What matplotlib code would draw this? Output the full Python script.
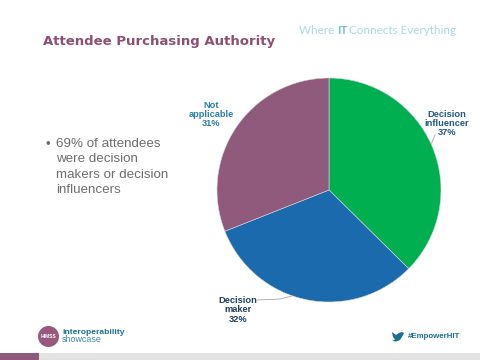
import matplotlib
matplotlib.use("Agg")
import matplotlib.pyplot as plt
from matplotlib.patches import Rectangle, Circle, Polygon

labels = ["Decision\ninfluencer\n37%", "Decision\nmaker\n32%", "Not\napplicable\n31%"]
values = [37.4, 31.6, 31.0]
colors = ["#00B050", "#1B6AAE", "#8F5A7C"]
label_colors = ["#1F5A8A", "#1F3F5F", "#2A80A8"]
bullet = "69% of attendees\nwere decision\nmakers or decision\ninfluencers"

plt.rcParams['font.family'] = ['Liberation Sans', 'DejaVu Sans']
fig = plt.figure(figsize=(4.8, 3.6), dpi=100)
bg = fig.add_axes([0, 0, 1, 1])
bg.set_xlim(0, 480)
bg.set_ylim(360, 0)
bg.axis("off")

bg.text(43, 41, "Attendee Purchasing Authority", fontsize=9.5, fontweight="bold",
        color="#8F4F73", va="center", ha="left", family="DejaVu Sans")
bg.text(299, 30, "Where ", fontsize=8.4, color="#A9D8E8", va="center", ha="left", family="Lato")
bg.text(337, 30, "IT", fontsize=8.4, color="#7FBFD6", va="center", ha="left", family="Lato", fontweight="bold")
bg.text(349, 30, "Connects Everything", fontsize=8.4, color="#A9D8E8", va="center", ha="left", family="Lato")

bg.text(46, 145, "•", fontsize=9.6, color="#6E6E6E", va="center", ha="left")
bg.text(56, 167, bullet, fontsize=9.6, color="#6E6E6E", va="center", ha="left", linespacing=1.37)

# footer
bg.add_patch(Rectangle((0, 353), 480, 7, color="#E3E3E3", lw=0))
bg.add_patch(Rectangle((0, 353), 39, 7, color="#8F5A7C", lw=0))
bg.add_patch(Circle((48.5, 336.5), 10.5, color="#97597C", lw=0))
bg.text(48.5, 337, "HIMSS", fontsize=3.6, color="white", ha="center", va="center", fontweight="bold")
bg.text(62, 332, "interoperability", fontsize=6.1, color="#1A6F94", fontweight="bold", va="center", ha="left")
bg.text(62, 340, "showcase", fontsize=6.4, color="#3E8FB0", va="center", ha="left")
bg.text(408, 336.5, "#EmpowerHIT", fontsize=5.7, color="#1A6F94", fontweight="bold", va="center", ha="left")
bg.add_patch(Polygon([(392, 332), (396, 335), (399, 333), (402, 332), (404, 333), (402.5, 336),
                     (400, 340), (396, 341.5), (392, 341), (395, 339.5), (393, 337)],
                     closed=True, color="#1A6F94", lw=0))

# pie: centre (329,190), radius 112 px
ax = fig.add_axes([217 / 480, (360 - 302) / 360, 224 / 480, 224 / 360])
ax.pie(values, colors=colors, startangle=90, counterclock=False, radius=1.0,
       wedgeprops={"linewidth": 0.4, "edgecolor": "#D8D8D8"})
ax.set_xlim(-1, 1)
ax.set_ylim(-1, 1)
ax.set_aspect("equal")

# leader lines
bg.plot([435, 432, 431], [135, 142, 148], color="#A6A6A6", lw=0.6)
bg.plot([257, 280, 292], [300, 299, 296], color="#A6A6A6", lw=0.6, zorder=1)

pos = [(447, 123.5), (238, 310), (211, 114.5)]
for s, (x, y), c in zip(labels, pos, label_colors):
    bg.text(x, y, s, fontsize=6.7, fontweight="bold", color=c, ha="center", va="center",
            linespacing=1.05)

fig.savefig("out.png", dpi=100)
